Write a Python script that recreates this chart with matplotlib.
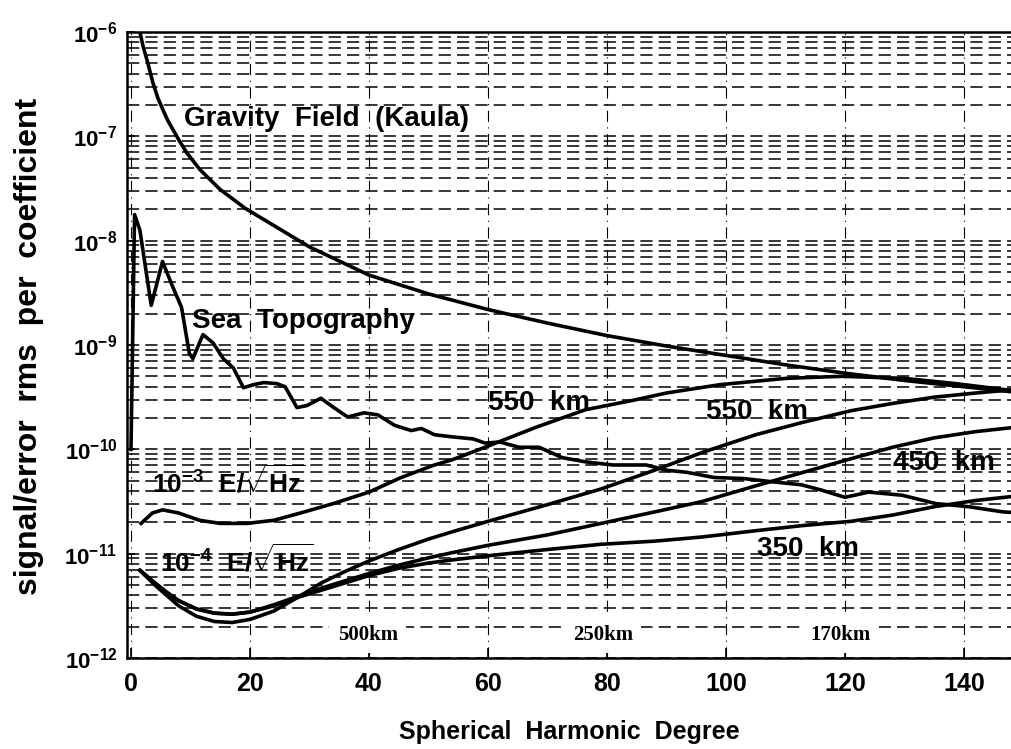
import numpy as np
import matplotlib
matplotlib.use("Agg")
import matplotlib.pyplot as plt
from matplotlib.ticker import LogLocator, FixedLocator, NullFormatter

plt.rcParams['font.family'] = ['Liberation Sans', 'DejaVu Sans']
plt.rcParams['font.weight'] = 'bold'
plt.rcParams['mathtext.fontset'] = 'custom'
plt.rcParams['mathtext.rm'] = 'Liberation Sans:bold'
plt.rcParams['mathtext.bf'] = 'Liberation Sans:bold'
plt.rcParams['mathtext.it'] = 'Liberation Sans:bold'
plt.rcParams['mathtext.default'] = 'bf'

# ---------------- data (degree, log10 of rms per coefficient) ----------------
gravity_deg = [1.5, 2.0, 2.7, 3.2, 3.7, 4.5, 5.4, 6.2, 7.1, 8.2, 9.4, 11.6, 15,
               19.2, 26.2, 30, 40, 50, 60, 70, 80, 90, 100, 110, 120, 130, 140, 150]
gravity_log = [-6.0, -6.13, -6.27, -6.38, -6.49, -6.63, -6.75, -6.85, -6.94, -7.05,
               -7.16, -7.32, -7.51, -7.69, -7.93, -8.06, -8.33, -8.51, -8.66, -8.79,
               -8.91, -9.01, -9.1, -9.19, -9.27, -9.34, -9.40, -9.46]

seatopo_deg = [0, 0.6, 1.5, 3.4, 5.3, 7, 8.5, 9.8, 10.4, 12.1, 13.8, 15.5, 17.2,
               18.9, 20.6, 22.3, 24.5, 25.9, 27.9, 29.6, 31.9, 34.1, 36.4, 39.2,
               41.5, 44.3, 47.1, 48.8, 51, 53.9, 57.5, 59.5, 62, 65.2, 68.6, 72.5,
               76.4, 81, 86.6, 90, 93.4, 98, 103, 107.6, 112.7, 116, 120, 124,
               129.6, 135.3, 140.8, 146.6, 150]
seatopo_log = [-10.0, -7.75, -7.9, -8.62, -8.2, -8.44, -8.64, -9.08, -9.13, -8.9,
               -8.98, -9.13, -9.22, -9.41, -9.38, -9.36, -9.37, -9.4, -9.6, -9.58,
               -9.51, -9.6, -9.69, -9.65, -9.67, -9.77, -9.82, -9.8, -9.86, -9.88,
               -9.9, -9.94, -9.93, -9.98, -9.98, -10.08, -10.12, -10.15, -10.15,
               -10.2, -10.22, -10.27, -10.28, -10.31, -10.34, -10.39, -10.46,
               -10.41, -10.44, -10.52, -10.55, -10.6, -10.61]

# 10^-3 E/sqrt(Hz), 550 km
e3_550_deg = [1.7, 3.6, 5.3, 8, 11.5, 15, 19.5, 24, 28.5, 34, 40, 45.4, 51, 54,
              59.5, 68, 76.4, 84.4, 90, 99, 110, 119.5, 130, 138.6, 150]
e3_550_log = [-10.71, -10.61, -10.58, -10.61, -10.68, -10.71, -10.71, -10.68,
              -10.61, -10.52, -10.41, -10.27, -10.15, -10.10, -9.98, -9.79, -9.62,
              -9.53, -9.46, -9.38, -9.32, -9.30, -9.32, -9.37, -9.45]

# 10^-4 E/sqrt(Hz): 550, 450, 350 km
e4_deg = [1.5, 4, 6, 8, 11, 14, 17, 20, 24, 28, 32, 36, 40, 45, 50, 54, 60, 70,
          79, 88, 96, 105, 113, 121, 128, 135, 142, 150]
e4_550_log = [-11.16, -11.3, -11.4, -11.5, -11.6, -11.65, -11.66, -11.63, -11.55,
              -11.42, -11.28, -11.17, -11.07, -10.96, -10.86, -10.79, -10.69,
              -10.53, -10.38, -10.2, -10.03, -9.86, -9.74, -9.63, -9.56, -9.50,
              -9.46, -9.42]
e4_450_log = [-11.16, -11.28, -11.37, -11.45, -11.53, -11.57, -11.58, -11.56,
              -11.49, -11.41, -11.33, -11.26, -11.19, -11.11, -11.04, -10.99,
              -10.92, -10.82, -10.71, -10.6, -10.5, -10.35, -10.22, -10.09,
              -9.98, -9.89, -9.83, -9.78]
e4_350_log = [-11.16, -11.28, -11.37, -11.45, -11.53, -11.57, -11.58, -11.56,
              -11.5, -11.42, -11.35, -11.28, -11.21, -11.14, -11.09, -11.06,
              -11.02, -10.96, -10.91, -10.88, -10.84, -10.78, -10.73, -10.69,
              -10.63, -10.55, -10.49, -10.44]

x_ticks = [0, 20, 40, 60, 80, 100, 120, 140]
y_decades = [-12, -11, -10, -9, -8, -7, -6]
wavelength_labels = ["500km", "250km", "170km"]
wavelength_deg = [39.8, 79.3, 119.2]

# ---------------- figure ----------------
fig = plt.figure(figsize=(10.12, 7.49), dpi=100)
ax = fig.add_axes([127/1012, (749-658)/749, (1012-127)/1012, (658-32)/749])
ax.set_yscale('log')
ax.set_xlim(-0.67, 148.07)
ax.set_ylim(1e-12, 1e-6)

# grid
ax.yaxis.set_major_locator(FixedLocator([10.0**d for d in y_decades]))
ax.yaxis.set_minor_locator(LogLocator(base=10, subs=np.arange(2, 10), numticks=100))
ax.yaxis.set_minor_formatter(NullFormatter())
ax.set_yticklabels([r'$10^{%d}$' % d for d in y_decades])
ax.grid(True, which='both', axis='y', color='black', linestyle=(0, (8, 4)), lw=1.1)
ax.set_xticks(x_ticks)
ax.grid(True, which='major', axis='x', color='black', linestyle=(0, (10, 5, 1, 5)), lw=0.8)

lw = 2.6
ax.plot(gravity_deg, 10.0**np.array(gravity_log), color='black', lw=lw)
ax.plot(seatopo_deg, 10.0**np.array(seatopo_log), color='black', lw=lw)
ax.plot(e3_550_deg, 10.0**np.array(e3_550_log), color='black', lw=lw)
ax.plot(e4_deg, 10.0**np.array(e4_550_log), color='black', lw=lw)
ax.plot(e4_deg, 10.0**np.array(e4_450_log), color='black', lw=lw)
ax.plot(e4_deg, 10.0**np.array(e4_350_log), color='black', lw=lw)

# spines & ticks
for s in ['left', 'top', 'bottom']:
    ax.spines[s].set_linewidth(1.8)
ax.spines['right'].set_visible(False)
ax.tick_params(axis='x', which='major', direction='in', length=7, width=1.2,
               labelsize=18, pad=10)
ax.tick_params(axis='y', which='major', direction='in', length=6, width=1.2,
               labelsize=16, pad=7)
ax.tick_params(axis='y', which='minor', direction='in', length=0)
for lab in ax.get_xticklabels():
    lab.set_fontweight('bold')

ax.set_xlabel('Spherical  Harmonic  Degree', fontsize=18, fontweight='bold', labelpad=17)
ax.set_ylabel('signal/error  rms  per  coefficient', fontsize=23, fontweight='bold')
ax.yaxis.set_label_coords(-0.094, 0.498)

# annotations
tk = dict(fontsize=20, fontweight='bold', va='center', ha='left')
ax.text(8.9, 1.48e-7, 'Gravity  Field  (Kaula)', **tk)
ax.text(10.25, 1.7e-9, 'Sea  Topography', **tk)
ax.text(60, 2.8e-10, '550  km', **tk)
ax.text(96.6, 2.3e-10, '550  km', **tk)
ax.text(128, 7.4e-11, '450  km', **tk)
ax.text(105.2, 1.12e-11, '350  km', **tk)
ax.text(3.5, 4.9e-11, r'$10^{-3}\ \ E/\sqrt{Hz}$', fontsize=19, va='center', ha='left')
ax.text(4.9, 8.7e-12, r'$10^{-4}\ \ E/\sqrt{Hz}$', fontsize=19, va='center', ha='left')

for lab, d in zip(wavelength_labels, wavelength_deg):
    ax.text(d, 1.66e-12, lab, fontsize=15, fontweight='bold', family='Liberation Serif',
            ha='center', va='center',
            bbox=dict(facecolor='white', edgecolor='none', pad=6))

fig.savefig('out.png', dpi=100)
